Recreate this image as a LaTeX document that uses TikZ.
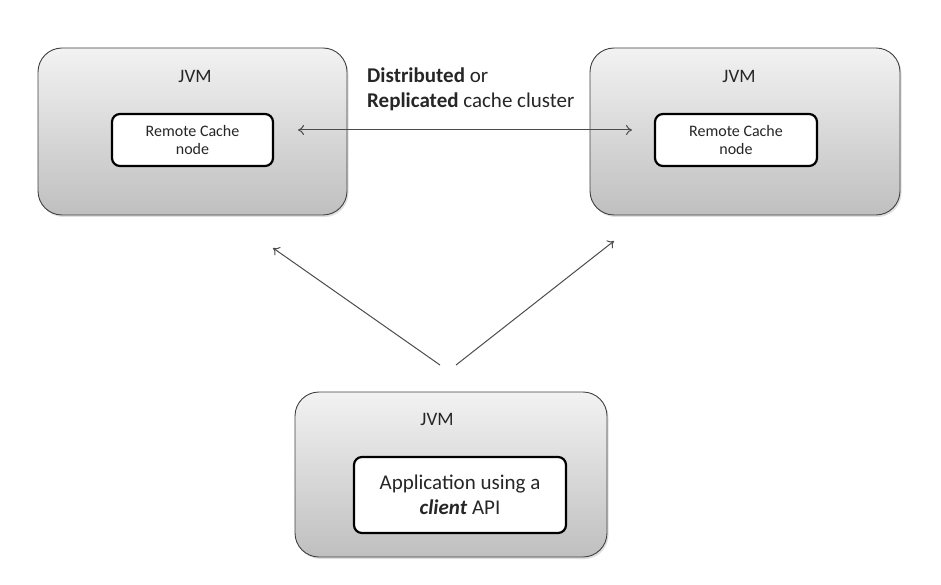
\documentclass[tikz,border=0pt]{standalone}
\usepackage{fontspec}
\setmainfont{Carlito}
\usetikzlibrary{shadows,arrows.meta}
\begin{document}
\begin{tikzpicture}[x=1pt,y=-1pt,
  jvmbox/.style={draw=black!75, line width=0.9pt, rounded corners=24pt,
    top color=black!5, bottom color=black!25,
    drop shadow={opacity=0.25, shadow xshift=1.5pt, shadow yshift=-2pt},
    inner sep=0pt},
  appbox/.style={draw=black, line width=2.2pt, rounded corners=8pt, fill=white,
    inner sep=0pt, align=center, text=black!85},
  jvmlabel/.style={font=\fontsize{19}{22}\selectfont, text=black!85, anchor=base},
  lbltext/.style={font=\fontsize{21}{25}\selectfont, text=black!85, anchor=base west, inner sep=0pt},
  conn/.style={draw=black!70, line width=1pt, -{To[length=6pt,width=10pt]}},
  conn2/.style={draw=black!70, line width=1pt, {To[length=6pt,width=10pt]}-{To[length=6pt,width=10pt]}}
]
\useasboundingbox (0,0) rectangle (941,585);
% outer JVM boxes
\node[jvmbox, minimum width=309pt, minimum height=167pt] (jl) at (192.5,131.5) {};
\node[jvmbox, minimum width=310pt, minimum height=167pt] (jr) at (745,131.5) {};
\node[jvmbox, minimum width=312pt, minimum height=165pt] (jb) at (451,474.5) {};
% JVM labels
\node[jvmlabel] (tl) at (195,83) {JVM};
\node[jvmlabel] (tr) at (739,83) {JVM};
\node[jvmlabel] (tb) at (437,425) {JVM};
% inner boxes
\node[appbox, minimum width=161pt, minimum height=52pt,
  font=\fontsize{16}{18}\selectfont] (rl) at (192.5,140) {Remote Cache\\node};
\node[appbox, minimum width=162pt, minimum height=52pt,
  font=\fontsize{16}{18}\selectfont] (rr) at (736,140) {Remote Cache\\node};
\node[appbox, minimum width=212pt, minimum height=76pt,
  font=\fontsize{21}{25}\selectfont] (app) at (460,495) {Application using a\\\textbf{\textit{client}} API};
% cluster label
\node[lbltext] (lbl1) at (367,83) {\textbf{Distributed} or};
\node[lbltext] (lbl2) at (367,108) {\textbf{Replicated} cache cluster};
% connectors
\coordinate (hl) at (298,130);
\coordinate (hr) at (632,130);
\coordinate (srcl) at (440,365);
\coordinate (srcr) at (456,365);
\coordinate (dl) at (273,248);
\coordinate (dr) at (614,241);
\draw[conn2] (hl) -- (hr);
\draw[conn] (srcl) -- (dl);
\draw[conn] (srcr) -- (dr);
\end{tikzpicture}
\end{document}
